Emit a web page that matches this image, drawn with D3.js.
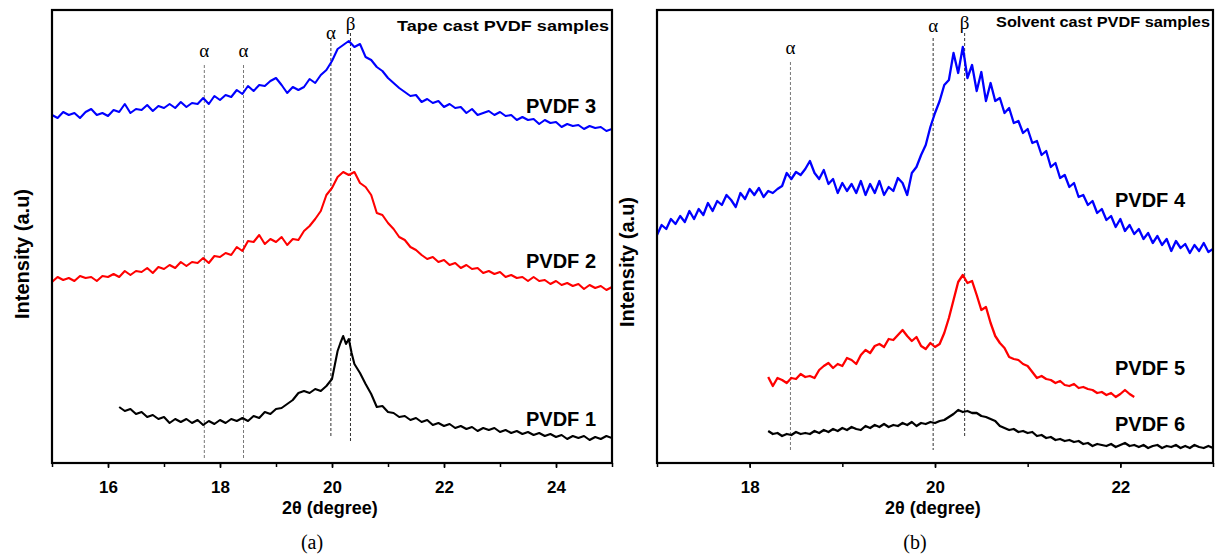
<!DOCTYPE html>
<html>
<head>
<meta charset="utf-8">
<script src="https://cdn.jsdelivr.net/npm/d3@7"></script>
<style>
  body { margin: 0; background: #fff; }
  svg { display: block; }
</style>
</head>
<body>
<svg id="chart" width="1215" height="556"></svg>
<script>
// ---- data (2θ in degrees, intensity in arbitrary units) ----
const pvdf3 = [[15.0,348],[15.1,345],[15.2,351],[15.3,348],[15.4,350],[15.5,345],[15.6,351],[15.7,354],[15.8,348],[15.9,350],
  [16.0,347],[16.1,353],[16.2,351],[16.3,359],[16.4,350],[16.5,354],[16.6,353],[16.7,358],[16.8,352],[16.9,357],
  [17.0,355],[17.1,359],[17.2,355],[17.3,361],[17.4,356],[17.5,360],[17.6,359],[17.7,365],[17.8,359],[17.9,367],
  [18.0,363],[18.1,368],[18.2,366],[18.3,373],[18.4,369],[18.5,377],[18.6,372],[18.7,378],[18.8,377],[18.9,382],
  [19.0,385],[19.1,378],[19.2,370],[19.3,376],[19.4,373],[19.5,376],[19.6,384],[19.7,380],[19.8,388],[19.9,393],
  [20.0,402],[20.1,414],[20.2,418],[20.3,422],[20.4,416],[20.5,419],[20.6,406],[20.7,403],[20.8,396],[20.9,392],
  [21.0,385],[21.1,380],[21.2,375],[21.3,371],[21.4,367],[21.5,368],[21.6,361],[21.7,364],[21.8,360],[21.9,362],
  [22.0,356],[22.1,359],[22.2,355],[22.3,356],[22.4,350],[22.5,354],[22.6,348],[22.7,350],[22.8,352],[22.9,348],
  [23.0,351],[23.1,347],[23.2,348],[23.3,343],[23.4,346],[23.5,343],[23.6,344],[23.7,339],[23.8,343],[23.9,340],
  [24.0,341],[24.1,336],[24.2,339],[24.3,337],[24.4,338],[24.5,334],[24.6,337],[24.7,335],[24.8,336],[24.9,332],[25.0,334]];

const pvdf2 = [[15.0,181],[15.1,186],[15.2,183],[15.3,185],[15.4,182],[15.5,187],[15.6,185],[15.7,186],[15.8,182],[15.9,187],
  [16.0,186],[16.1,189],[16.2,186],[16.3,192],[16.4,188],[16.5,192],[16.6,191],[16.7,195],[16.8,190],[16.9,196],
  [17.0,194],[17.1,198],[17.2,195],[17.3,201],[17.4,197],[17.5,201],[17.6,200],[17.7,205],[17.8,200],[17.9,207],
  [18.0,206],[18.1,210],[18.2,208],[18.3,216],[18.4,212],[18.5,222],[18.6,221],[18.7,228],[18.8,219],[18.9,224],
  [19.0,221],[19.1,226],[19.2,218],[19.3,224],[19.4,223],[19.5,232],[19.6,237],[19.7,244],[19.8,252],[19.9,268],
  [20.0,275],[20.1,286],[20.2,291],[20.3,288],[20.4,291],[20.5,280],[20.6,276],[20.7,268],[20.8,250],[20.9,248],
  [21.0,240],[21.1,234],[21.2,226],[21.3,223],[21.4,216],[21.5,213],[21.6,208],[21.7,204],[21.8,206],[21.9,201],
  [22.0,203],[22.1,198],[22.2,200],[22.3,195],[22.4,198],[22.5,194],[22.6,195],[22.7,190],[22.8,192],[22.9,189],
  [23.0,191],[23.1,186],[23.2,188],[23.3,185],[23.4,186],[23.5,182],[23.6,186],[23.7,182],[23.8,183],[23.9,179],
  [24.0,182],[24.1,178],[24.2,180],[24.3,177],[24.4,179],[24.5,174],[24.6,178],[24.7,175],[24.8,177],[24.9,173],[25.0,176]];

const pvdf1 = [[16.2,56],[16.3,52],[16.4,54],[16.5,49],[16.6,51],[16.7,46],[16.8,48],[16.9,44],
  [17.0,46],[17.1,40],[17.2,44],[17.3,41],[17.4,44],[17.5,40],[17.6,43],[17.7,38],[17.8,42],[17.9,39],
  [18.0,43],[18.1,40],[18.2,44],[18.3,42],[18.4,45],[18.5,42],[18.6,47],[18.7,45],[18.8,51],[18.9,49],
  [19.0,54],[19.1,55],[19.2,59],[19.3,63],[19.4,70],[19.5,72],[19.6,70],[19.7,74],[19.8,72],[19.9,77],
  [20.0,84],[20.05,98],[20.1,112],[20.15,120],[20.2,127],[20.25,119],[20.3,124],[20.35,110],[20.4,99],
  [20.5,90],[20.6,79],[20.7,69],[20.8,56],[20.9,57],[21.0,51],[21.1,50],[21.2,46],[21.3,47],[21.4,43],
  [21.5,45],[21.6,41],[21.7,43],[21.8,38],[21.9,40],[22.0,37],[22.1,39],[22.2,35],[22.3,37],[22.4,34],
  [22.5,36],[22.6,32],[22.7,35],[22.8,33],[22.9,35],[23.0,31],[23.1,33],[23.2,30],[23.3,32],[23.4,29],
  [23.5,31],[23.6,28],[23.7,30],[23.8,27],[23.9,29],[24.0,26],[24.1,28],[24.2,24],[24.3,27],[24.4,25],
  [24.5,27],[24.6,23],[24.7,26],[24.8,24],[24.9,27],[25.0,25]];

const pvdf4 = [[17.0,228],[17.05,238],[17.1,234],[17.15,244],[17.2,239],[17.25,247],[17.3,241],[17.35,252],[17.4,244],[17.45,254],
  [17.5,248],[17.55,260],[17.6,252],[17.65,262],[17.7,258],[17.75,268],[17.8,263],[17.85,256],[17.9,270],[17.95,264],
  [18.0,274],[18.05,268],[18.1,275],[18.15,266],[18.2,272],[18.25,270],[18.3,274],[18.35,277],[18.4,290],[18.45,284],
  [18.5,291],[18.55,288],[18.6,294],[18.65,302],[18.7,290],[18.75,284],[18.8,293],[18.85,279],[18.9,284],[18.95,270],
  [19.0,280],[19.05,272],[19.1,279],[19.15,270],[19.2,282],[19.25,268],[19.3,279],[19.35,270],[19.4,282],[19.45,268],
  [19.5,276],[19.55,272],[19.6,285],[19.65,280],[19.7,268],[19.75,290],[19.8,296],[19.85,308],[19.9,318],[19.95,336],
  [20.0,350],[20.05,362],[20.1,378],[20.15,383],[20.2,410],[20.25,390],[20.3,416],[20.35,385],[20.4,398],[20.45,372],
  [20.5,391],[20.55,362],[20.6,380],[20.65,362],[20.7,365],[20.75,350],[20.8,355],[20.85,340],[20.9,342],[20.95,330],
  [21.0,334],[21.05,320],[21.1,322],[21.15,308],[21.2,312],[21.25,296],[21.3,300],[21.35,285],[21.4,288],[21.45,276],
  [21.5,280],[21.55,266],[21.6,268],[21.65,258],[21.7,262],[21.75,250],[21.8,254],[21.85,243],[21.9,247],[21.95,236],
  [22.0,244],[22.05,232],[22.1,238],[22.15,229],[22.2,234],[22.25,224],[22.3,230],[22.35,220],[22.4,227],[22.45,218],
  [22.5,224],[22.55,212],[22.6,222],[22.65,215],[22.7,219],[22.75,210],[22.8,218],[22.85,212],[22.9,220],[22.95,211],[23.0,214]];

const pvdf5 = [[18.2,86],[18.25,77],[18.3,85],[18.35,83],[18.4,80],[18.45,85],[18.5,84],[18.55,89],[18.6,86],[18.65,87],
  [18.7,85],[18.75,93],[18.8,97],[18.85,100],[18.9,95],[18.95,99],[19.0,97],[19.05,105],[19.1,103],[19.15,99],
  [19.2,108],[19.25,113],[19.3,110],[19.35,117],[19.4,119],[19.45,116],[19.5,124],[19.55,123],[19.6,128],[19.65,133],
  [19.7,127],[19.75,122],[19.8,126],[19.85,117],[19.9,114],[19.95,120],[20.0,116],[20.05,119],[20.1,130],[20.15,145],
  [20.2,163],[20.25,181],[20.3,188],[20.35,180],[20.4,182],[20.45,168],[20.5,153],[20.55,156],[20.6,140],[20.65,127],
  [20.7,120],[20.75,115],[20.8,106],[20.85,104],[20.9,103],[20.95,99],[21.0,97],[21.05,91],[21.1,85],[21.15,87],
  [21.2,84],[21.25,83],[21.3,80],[21.35,82],[21.4,78],[21.45,77],[21.5,79],[21.55,75],[21.6,76],[21.65,74],
  [21.7,73],[21.75,70],[21.8,71],[21.85,68],[21.9,70],[21.95,66],[22.0,69],[22.05,73],[22.1,69],[22.15,66]];

const pvdf6 = [[18.2,32],[18.25,29],[18.3,30],[18.35,27],[18.4,29],[18.45,28],[18.5,31],[18.55,29],[18.6,30],[18.65,29],
  [18.7,32],[18.75,30],[18.8,33],[18.85,31],[18.9,34],[18.95,32],[19.0,35],[19.05,33],[19.1,36],[19.15,34],
  [19.2,33],[19.25,37],[19.3,35],[19.35,38],[19.4,36],[19.45,39],[19.5,36],[19.55,38],[19.6,37],[19.65,40],
  [19.7,38],[19.75,41],[19.8,37],[19.85,40],[19.9,39],[19.95,41],[20.0,40],[20.05,42],[20.1,43],[20.15,46],
  [20.2,49],[20.25,53],[20.3,51],[20.35,52],[20.4,50],[20.45,50],[20.5,47],[20.55,46],[20.6,44],[20.65,42],
  [20.7,37],[20.75,35],[20.8,33],[20.85,34],[20.9,31],[20.95,32],[21.0,30],[21.05,31],[21.1,27],[21.15,28],
  [21.2,25],[21.25,26],[21.3,23],[21.35,24],[21.4,22],[21.45,23],[21.5,21],[21.55,22],[21.6,19],[21.65,20],
  [21.7,17],[21.75,19],[21.8,18],[21.85,17],[21.9,19],[21.95,16],[22.0,18],[22.05,20],[22.1,17],[22.15,18],
  [22.2,16],[22.25,18],[22.3,15],[22.35,17],[22.4,18],[22.45,15],[22.5,17],[22.55,16],[22.6,18],[22.65,15],
  [22.7,17],[22.75,15],[22.8,18],[22.85,16],[22.9,15],[22.95,17],[23.0,15]];

// reflection markers
const peaksA = [17.72, 18.42, 19.98, 20.33];
const peaksB = [18.44, 19.98, 20.32];
const peakNamesA = ["α", "α", "α", "β"];
const peakNamesB = ["α", "α", "β"];
const ticksA = [16, 18, 20, 22, 24];
const ticksB = [18, 20, 22];

// ---- layout ----
const svg = d3.select("#chart");
const plotTop = 10, plotBottom = 463;

const panels = [
  {
    id: "a", left: 52, right: 612, domain: [15, 25], ticks: ticksA, minor: d3.range(15, 26, 1),
    title: "Tape cast PVDF samples", titleLen: 212, titleY: 31, caption: "(a)", yTitleX: 22,
    series: [
      { data: pvdf3, color: "#0000ff", name: "PVDF 3", ly: 113 },
      { data: pvdf2, color: "#ff0000", name: "PVDF 2", ly: 268 },
      { data: pvdf1, color: "#000000", name: "PVDF 1", ly: 426 }
    ],
    lw: 2.1, labelX: 526,
    peaks: peaksA, names: peakNamesA,
    peakTop: [398, 398, 425, 430], peakBot: [3, 5, 26, 21], nameY: [406, 406, 424, 433],
    peakColor: ["#777", "#777", "#333", "#333"]
  },
  {
    id: "b", left: 657, right: 1213, domain: [17, 23], ticks: ticksB, minor: d3.range(17, 24, 1),
    title: "Solvent cast PVDF samples", titleLen: 214, titleY: 27, caption: "(b)", yTitleX: 627,
    series: [
      { data: pvdf4, color: "#0000ff", name: "PVDF 4", ly: 207 },
      { data: pvdf5, color: "#ff0000", name: "PVDF 5", ly: 375 },
      { data: pvdf6, color: "#000000", name: "PVDF 6", ly: 431 }
    ],
    lw: 2.3, labelX: 1115,
    peaks: peaksB, names: peakNamesB,
    peakTop: [401, 425, 430], peakBot: [11, 13, 25], nameY: [409, 431, 434],
    peakColor: ["#777", "#333", "#333"]
  }
];

panels.forEach(p => {
  const x = d3.scaleLinear().domain(p.domain).range([p.left, p.right]);
  const y = d3.scaleLinear().domain([0, plotBottom - plotTop]).range([plotBottom, plotTop]);
  const g = svg.append("g").attr("class", "panel-" + p.id);

  g.append("clipPath").attr("id", "clip-" + p.id)
    .append("rect")
    .attr("x", p.left).attr("y", plotTop)
    .attr("width", p.right - p.left).attr("height", plotBottom - plotTop);

  // dashed reflection lines
  g.selectAll(".peak")
    .data(p.peaks)
    .join("line")
    .attr("class", "peak")
    .attr("x1", d => x(d)).attr("x2", d => x(d))
    .attr("y1", (d, i) => y(p.peakTop[i]))
    .attr("y2", (d, i) => y(p.peakBot[i]))
    .attr("stroke", (d, i) => p.peakColor[i])
    .attr("stroke-width", 1)
    .attr("stroke-dasharray", "3,2");

  g.selectAll(".peak-name")
    .data(p.peaks)
    .join("text")
    .attr("class", "peak-name")
    .attr("x", d => x(d))
    .attr("y", (d, i) => y(p.nameY[i]))
    .attr("text-anchor", "middle")
    .attr("font-family", "'Liberation Serif', 'Times New Roman', serif")
    .attr("font-size", 19)
    .text((d, i) => p.names[i]);

  // curves
  const line = d3.line().x(d => x(d[0])).y(d => y(d[1]));
  g.append("g")
    .attr("clip-path", `url(#clip-${p.id})`)
    .selectAll("path")
    .data(p.series)
    .join("path")
    .attr("d", s => line(s.data))
    .attr("fill", "none")
    .attr("stroke", s => s.color)
    .attr("stroke-width", p.lw)
    .attr("stroke-linejoin", "round");

  g.selectAll(".series-label")
    .data(p.series)
    .join("text")
    .attr("class", "series-label")
    .attr("x", p.labelX)
    .attr("y", s => s.ly)
    .attr("font-family", "'Liberation Sans', Arial, sans-serif")
    .attr("font-weight", "bold")
    .attr("font-size", 20)
    .text(s => s.name);

  // frame
  g.append("rect")
    .attr("x", p.left).attr("y", plotTop)
    .attr("width", p.right - p.left).attr("height", plotBottom - plotTop)
    .attr("fill", "none")
    .attr("stroke", "#000")
    .attr("stroke-width", 2.2);

  // x axis, major + minor ticks
  g.append("g")
    .attr("transform", `translate(0,${plotBottom})`)
    .call(d3.axisBottom(x).tickValues(p.minor).tickSize(4).tickFormat(""))
    .call(a => a.select(".domain").remove())
    .call(a => a.selectAll("line").attr("stroke-width", 1.5));

  g.append("g")
    .attr("transform", `translate(0,${plotBottom})`)
    .call(d3.axisBottom(x).tickValues(p.ticks).tickSize(5).tickPadding(13).tickFormat(d3.format("d")))
    .call(a => a.select(".domain").remove())
    .call(a => a.selectAll("line").attr("stroke-width", 1.5))
    .call(a => a.selectAll("text")
      .attr("font-family", "'Liberation Sans', Arial, sans-serif")
      .attr("font-weight", "bold")
      .attr("font-size", 17)
      .attr("fill", "#000"));

  g.append("text")
    .attr("x", (p.left + p.right) / 2 - 2)
    .attr("y", 514)
    .attr("text-anchor", "middle")
    .attr("font-family", "'Liberation Sans', Arial, sans-serif")
    .attr("font-weight", "bold")
    .attr("font-size", 18)
    .text("2θ (degree)");

  g.append("text")
    .attr("transform", `translate(${p.yTitleX + 7},${p.id === "a" ? 254 : 262}) rotate(-90)`)
    .attr("text-anchor", "middle")
    .attr("font-family", "'Liberation Sans', Arial, sans-serif")
    .attr("font-weight", "bold")
    .attr("font-size", 20)
    .text("Intensity (a.u)");

  g.append("text")
    .attr("x", p.right - 3)
    .attr("y", p.titleY)
    .attr("text-anchor", "end")
    .attr("font-family", "'Liberation Sans', Arial, sans-serif")
    .attr("font-weight", "bold")
    .attr("font-size", 15)
    .attr("textLength", p.titleLen)
    .attr("lengthAdjust", "spacingAndGlyphs")
    .text(p.title);

  g.append("text")
    .attr("x", (p.left + p.right) / 2 - 20)
    .attr("y", 549)
    .attr("text-anchor", "middle")
    .attr("font-family", "'Liberation Serif', 'Times New Roman', serif")
    .attr("font-size", 20)
    .text(p.caption);
});
</script>
</body>
</html>
